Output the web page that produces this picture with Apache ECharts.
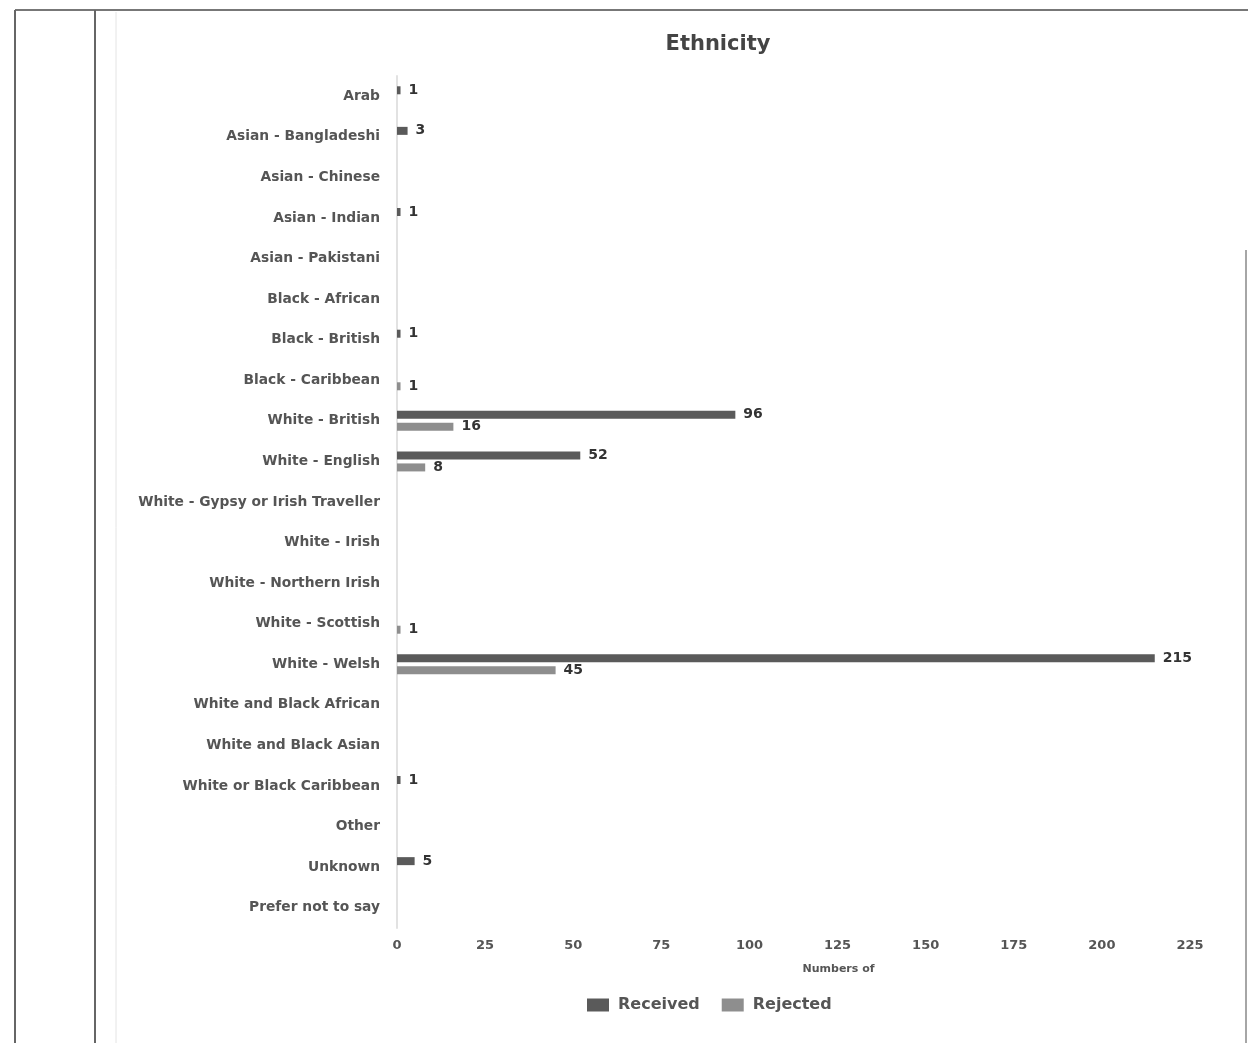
<!DOCTYPE html>
<html>
<head>
<meta charset="utf-8">
<script src="https://cdn.jsdelivr.net/npm/echarts@6/dist/echarts.min.js"></script>
<style>
  html, body { margin: 0; padding: 0; background: #fff; }
  #chart { width: 1248px; height: 1043px; }
</style>
</head>
<body>
<div id="chart"></div>
<script>
// Ethnicity categories, top to bottom
const categories = [
  'Arab', 'Asian - Bangladeshi', 'Asian - Chinese', 'Asian - Indian', 'Asian - Pakistani',
  'Black - African', 'Black - British', 'Black - Caribbean', 'White - British', 'White - English',
  'White - Gypsy or Irish Traveller', 'White - Irish', 'White - Northern Irish', 'White - Scottish',
  'White - Welsh', 'White and Black African', 'White and Black Asian', 'White or Black Caribbean',
  'Other', 'Unknown', 'Prefer not to say'
];
const received = [1, 3, 0, 1, 0, 0, 1, 0, 96, 52, 0, 0, 0, 0, 215, 0, 0, 1, 0, 5, 0];
const rejected = [0, 0, 0, 0, 0, 0, 0, 1, 16, 8, 0, 0, 0, 1, 45, 0, 0, 0, 0, 0, 0];
const xTicks = [0, 25, 50, 75, 100, 125, 150, 175, 200, 225];

const chart = echarts.init(document.getElementById('chart'));

const valueLabel = {
  show: true,
  position: 'right',
  distance: 8,
  fontFamily: 'DejaVu Sans',
  fontWeight: 'bold',
  fontSize: 14,
  color: '#333',
  formatter: p => (p.value ? String(p.value) : '')
};

chart.setOption({
  animation: false,
  backgroundColor: '#fff',
  title: {
    text: 'Ethnicity',
    left: 713,
    top: 29,
    textAlign: 'center',
    textStyle: { fontFamily: 'DejaVu Sans', fontWeight: 'bold', fontSize: 21, color: '#444' }
  },
  legend: {
    data: ['Received', 'Rejected'],
    left: 582,
    top: 992,
    itemWidth: 22,
    itemHeight: 13,
    itemGap: 22,
    icon: 'rect',
    textStyle: { fontFamily: 'DejaVu Sans', fontWeight: 'bold', fontSize: 16, color: '#555', padding: [0, 0, 0, 4] }
  },
  grid: { left: 397, right: 58, top: 76, bottom: 115, containLabel: false },
  xAxis: {
    type: 'value',
    min: xTicks[0],
    max: xTicks[xTicks.length - 1],
    interval: xTicks[1] - xTicks[0],
    name: 'Numbers of',
    nameLocation: 'middle',
    nameGap: 36,
    nameTextStyle: { fontFamily: 'DejaVu Sans', fontWeight: 'bold', fontSize: 11, color: '#555', padding: [0, 0, 0, 90] },
    axisLine: { show: false },
    axisTick: { show: false },
    splitLine: { show: false },
    axisLabel: { fontFamily: 'DejaVu Sans', fontWeight: 'bold', fontSize: 13, color: '#555', margin: 11 }
  },
  yAxis: {
    type: 'category',
    data: categories,
    inverse: true,
    axisLine: { show: true, lineStyle: { color: '#e2e2e2', width: 2 } },
    axisTick: { show: false },
    axisLabel: { fontFamily: 'DejaVu Sans', fontWeight: 'bold', fontSize: 13.8, color: '#555', margin: 17 }
  },
  series: [
    {
      name: 'Received',
      type: 'bar',
      data: received,
      barWidth: 8,
      barGap: '50%',
      itemStyle: { color: '#5a5a5a' },
      label: valueLabel
    },
    {
      name: 'Rejected',
      type: 'bar',
      data: rejected,
      barWidth: 8,
      itemStyle: { color: '#8e8e8e' },
      label: valueLabel
    }
  ],
  graphic: [
    { type: 'line', shape: { x1: 15, y1: 10, x2: 1248, y2: 10 }, style: { stroke: '#777', lineWidth: 2 } },
    { type: 'line', shape: { x1: 15, y1: 10, x2: 15, y2: 1043 }, style: { stroke: '#666', lineWidth: 2 } },
    { type: 'line', shape: { x1: 95, y1: 10, x2: 95, y2: 1043 }, style: { stroke: '#666', lineWidth: 2 } },
    { type: 'line', shape: { x1: 116, y1: 12, x2: 116, y2: 1043 }, style: { stroke: '#e4e4e4', lineWidth: 1 } },
    { type: 'line', shape: { x1: 1246, y1: 250, x2: 1246, y2: 1043 }, style: { stroke: '#888', lineWidth: 1.5 } }
  ]
});
</script>
</body>
</html>
